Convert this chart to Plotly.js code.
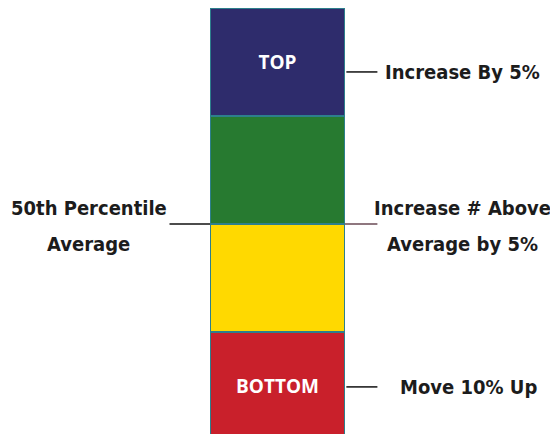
<!DOCTYPE html>
<html>
<head>
<meta charset="utf-8">
<script src="https://cdn.plot.ly/plotly-3.0.1.min.js"></script>
<style>html,body{margin:0;padding:0;background:#fff;}#chart{width:550px;height:434px;}</style>
</head>
<body>
<div id="chart"></div>
<script>
// Segments, bottom to top
const segments = ["Bottom", "Below Average", "Above Average", "Top"];
const segmentValues = [25, 25, 25, 25];
const segmentLabels = ["BOTTOM", "", "", "TOP"];
const segmentColors = ["#c9202b", "#ffd900", "#277a30", "#2e2c6c"];

// Callout texts (one entry per text line)
const rightNotes = ["Increase By 5%", "Increase # Above", "Average by 5%", "Move 10% Up"];
const leftNotes = ["50th Percentile", "Average"];

const yMin = 1.4, yMax = 100;
const py = v => (v - yMin) / (yMax - yMin);

const traces = segments.map((s, i) => ({
  type: "bar",
  x: ["bar"],
  y: [segmentValues[i]],
  name: s,
  width: [1],
  marker: { color: segmentColors[i], line: { color: "#2d7f8c", width: 1.2 } },
  text: [segmentLabels[i]],
  textposition: "inside",
  insidetextanchor: "middle",
  textfont: { color: "#ffffff", size: 19, family: "Open Sans, Liberation Sans, sans-serif", weight: 700 },
  hoverinfo: "skip"
}));

// cumulative boundaries
const cum = [0];
segmentValues.forEach(v => cum.push(cum[cum.length - 1] + v));
const midline = cum[2];

const font = { family: "DejaVu Sans Condensed, Liberation Sans Narrow, sans-serif", size: 20, color: "#1c1c1c", weight: 700 };

const shapes = [
  { type: "line", xref: "paper", yref: "paper", x0: 1.01, x1: 1.24, y0: py(85.2), y1: py(85.2), line: { color: "#111", width: 1.5 } },
  { type: "line", xref: "paper", yref: "paper", x0: 1.01, x1: 1.24, y0: py(12.3), y1: py(12.3), line: { color: "#111", width: 1.5 } },
  { type: "line", xref: "paper", yref: "paper", x0: -0.3, x1: 0.0, y0: py(midline), y1: py(midline), line: { color: "#111", width: 1.5 } },
  { type: "line", xref: "paper", yref: "paper", x0: 1.0, x1: 1.24, y0: py(midline), y1: py(midline), line: { color: "#6a4a55", width: 1.5 } }
];

const ann = (x, y, text, anchor) => ({ xref: "paper", yref: "paper", x, y: py(y), xanchor: anchor, yanchor: "middle", text, showarrow: false, font });

const annotations = [
  ann(1.285, 85.2, rightNotes[0], "left"),
  ann(1.87, 53.7, rightNotes[1], "center"),
  ann(1.87, 45.4, rightNotes[2], "center"),
  ann(1.39, 12.3, rightNotes[3], "left"),
  ann(-0.9, 53.7, leftNotes[0], "center"),
  ann(-0.9, 45.4, leftNotes[1], "center")
];

const layout = {
  width: 550, height: 434,
  margin: { l: 210, r: 205, t: 8, b: 0, pad: 0 },
  barmode: "stack",
  showlegend: false,
  paper_bgcolor: "#ffffff",
  plot_bgcolor: "#ffffff",
  xaxis: { visible: false, range: [-0.5, 0.5], fixedrange: true },
  yaxis: { visible: false, range: [yMin, yMax], fixedrange: true },
  shapes, annotations
};

Plotly.newPlot("chart", traces, layout, { staticPlot: true, displayModeBar: false });
</script>
</body>
</html>
